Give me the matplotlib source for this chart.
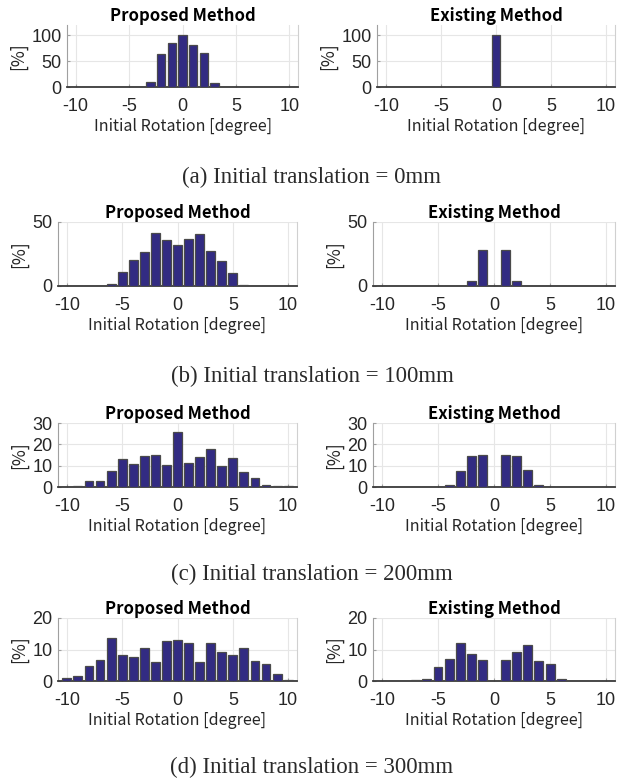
import matplotlib
matplotlib.use('Agg')
import matplotlib.pyplot as plt

plt.rcParams['axes.unicode_minus'] = False

W, H = 624, 780

rotation = list(range(-10, 11))

# bin heights in percent, bins -10 .. 10
prop_0 = [0, 0, 0, 0, 0, 0, 0, 9, 64.5, 85, 100, 80.5, 66, 8.4, 0.5, 0, 0, 0, 0, 0, 0]
exist_0 = [0, 0, 0, 0, 0, 0, 0, 0, 0, 0, 100, 0, 0, 0, 0, 0, 0, 0, 0, 0, 0]

prop_100 = [0, 0, 0, 0.3, 1.3, 11, 20, 26.6, 41.4, 36.2, 32.3, 37, 40.4, 27, 19.3, 10.4, 1, 0.3, 0, 0, 0]
exist_100 = [0, 0, 0, 0, 0, 0, 0, 0.3, 3.6, 27.9, 0, 27.9, 3.6, 0.3, 0, 0, 0, 0, 0, 0, 0]

prop_200 = [0.2, 0.5, 2.8, 2.8, 7.6, 13.1, 10.9, 14.5, 15, 10.1, 26, 11.2, 14.2, 17.8, 9.8, 13.6, 6.8, 4, 0.8, 0.3, 0.3]
exist_200 = [0, 0, 0, 0, 0, 0.2, 1.1, 7.4, 14.7, 15, 0, 15, 14.4, 7.9, 0.8, 0.2, 0, 0, 0, 0, 0]

prop_300 = [0.9, 1.7, 4.8, 6.7, 13.8, 8.3, 7.7, 10.4, 5.9, 12.8, 12.9, 12.1, 5.9, 12.2, 9.1, 8.1, 10.4, 6.3, 5.5, 2.3, 0.3]
exist_300 = [0, 0, 0, 0.3, 0.6, 4.6, 6.9, 12.0, 8.6, 6.7, 0, 6.6, 9.1, 11.4, 6.4, 5.4, 0.7, 0, 0, 0, 0]

rows = [
    (prop_0, exist_0, 120, [0, 50, 100], '(a) Initial translation = 0mm'),
    (prop_100, exist_100, 50, [0, 50], '(b) Initial translation = 100mm'),
    (prop_200, exist_200, 30, [0, 10, 20, 30], '(c) Initial translation = 200mm'),
    (prop_300, exist_300, 20, [0, 10, 20], '(d) Initial translation = 300mm'),
]

# pixel layout: (top, bottom, left-axes x0, x1, right-axes x0, x1, caption y)
layout = [
    (25, 87, 67, 298, 377, 615, 177),
    (222, 286, 58, 297, 373, 615, 376),
    (423, 487, 58, 297, 373, 615, 574),
    (618, 681, 58, 297, 373, 615, 767),
]

bar_color = '#322b82'
sans = ['Noto Sans CJK KR', 'DejaVu Sans']
tick_font = ['Liberation Sans', 'DejaVu Sans']

fig = plt.figure(figsize=(W / 100, H / 100), dpi=100)


def draw_panel(ax, vals, ymax, yticks, title):
    ax.bar(rotation, vals, width=0.8, color=bar_color,
           edgecolor='#4a4a4a', linewidth=0.9, zorder=3)
    ax.set_xlim(-10.8, 10.8)
    ax.set_ylim(0, ymax)
    ax.set_xticks([-10, -5, 0, 5, 10])
    ax.set_yticks(yticks)
    ax.grid(True, color='#e6e6e6', linewidth=0.8, zorder=0)
    ax.spines['top'].set_visible(False)
    ax.spines['left'].set_color('#a0a0a0')
    ax.spines['right'].set_color('#d0d0d0')
    ax.spines['bottom'].set_color('#3a3a3a')
    ax.spines['bottom'].set_linewidth(1.3)
    ax.tick_params(direction='in', length=2.5, color='#a0a0a0',
                   labelsize=13, labelcolor='#262626')
    ax.tick_params(axis='x', pad=8)
    ax.tick_params(axis='y', pad=4)
    for lab in ax.get_xticklabels() + ax.get_yticklabels():
        lab.set_family(tick_font)
    ax.set_xlabel('Initial Rotation [degree]', family=sans, fontsize=11.5,
                  color='#262626', labelpad=2)
    ax.set_ylabel('[%]', family=sans, fontsize=12.5, color='#262626', labelpad=3)
    ax.set_title(title, family=sans, fontsize=12, fontweight='bold', pad=1)


for (prop, exist, ymax, yticks, caption), (top, bot, lx0, lx1, rx0, rx1, cy) in zip(rows, layout):
    for vals, x0, x1, title in [(prop, lx0, lx1, 'Proposed Method'),
                                (exist, rx0, rx1, 'Existing Method')]:
        ax = fig.add_axes([x0 / W, 1 - bot / H, (x1 - x0) / W, (bot - top) / H])
        draw_panel(ax, vals, ymax, yticks, title)
    fig.text(0.5, 1 - cy / H, caption, ha='center', va='center',
             family=['Liberation Serif', 'DejaVu Serif'], fontsize=16.5, color='#2a2a2a')

fig.savefig('out.png', dpi=100)
